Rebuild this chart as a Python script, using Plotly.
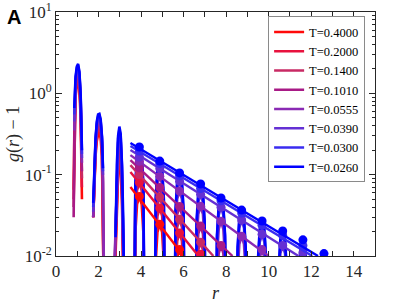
import plotly.graph_objects as go

# ---------------- data ----------------
TEMPS = ["0.4000", "0.2000", "0.1400", "0.1010", "0.0555", "0.0390", "0.0300", "0.0260"]
COLORS = ["#ff0a0a", "#e8123e", "#c82a64", "#a81a86", "#8a2ab4", "#6430d4", "#3a2cf0", "#0000ff"]

# first three peaks of g(r)-1 (explicit samples; None = g(r)-1 <= 0)
NEAR_R = [0.83, 0.86, 0.92, 0.98, 1.04, 1.10, 1.16, 1.22, None,
          1.75, 1.80, 1.86, 1.92, 1.98, 2.04, 2.10, 2.16, 2.21, 2.26, None,
          2.75, 2.80, 2.86, 2.92, 2.98, 3.04, 3.10, 3.16, 3.21]
NEAR_V = {
    "0.4000": [0.065, 0.30, 0.90, 1.30, 1.40, 1.10, 0.50, 0.050, None,
               0.030, 0.080, 0.17, 0.26, 0.31, 0.33, 0.28, 0.17, 0.050, 0.002, None,
               0.004, 0.013, 0.050, 0.10, 0.13, 0.11, 0.050, 0.011, 0.001],
    "0.2000": [0.050, 0.22, 0.95, 1.45, 1.60, 1.30, 0.60, 0.070, None,
               0.030, 0.090, 0.19, 0.30, 0.36, 0.38, 0.33, 0.20, 0.060, 0.002, None,
               0.005, 0.016, 0.060, 0.125, 0.16, 0.135, 0.063, 0.014, 0.002],
    "0.1400": [0.040, 0.20, 1.05, 1.60, 1.70, 1.40, 0.66, 0.090, None,
               0.030, 0.090, 0.21, 0.33, 0.40, 0.42, 0.36, 0.22, 0.070, 0.003, None,
               0.006, 0.018, 0.070, 0.15, 0.19, 0.16, 0.075, 0.016, 0.002],
    "0.1010": [0.030, 0.25, 1.15, 1.70, 1.80, 1.50, 0.72, 0.11, None,
               0.030, 0.10, 0.22, 0.35, 0.43, 0.45, 0.39, 0.24, 0.080, 0.003, None,
               0.007, 0.020, 0.080, 0.17, 0.22, 0.19, 0.085, 0.019, 0.002],
    "0.0555": [None, 0.35, 1.30, 1.85, 1.95, 1.60, 0.80, 0.14, None,
               0.030, 0.10, 0.24, 0.38, 0.46, 0.48, 0.41, 0.26, 0.090, 0.004, None,
               0.008, 0.024, 0.10, 0.21, 0.27, 0.23, 0.10, 0.022, 0.003],
    "0.0390": [None, 0.45, 1.40, 1.95, 2.10, 1.70, 0.85, 0.16, None,
               0.035, 0.10, 0.26, 0.41, 0.50, 0.52, 0.44, 0.28, 0.10, None, None,
               None, 0.022, 0.11, 0.25, 0.32, 0.27, 0.12, 0.025, 0.003],
    "0.0300": [None, 0.55, 1.50, 2.05, 2.20, 1.78, 0.90, 0.18, None,
               0.040, 0.11, 0.27, 0.43, 0.53, 0.54, 0.46, 0.29, 0.11, None, None,
               None, 0.019, 0.12, 0.28, 0.36, 0.30, 0.13, 0.028, 0.003],
    "0.0260": [None, 0.66, 1.60, 2.15, 2.30, 1.85, 0.95, 0.20, None,
               0.045, 0.12, 0.28, 0.45, 0.55, 0.56, 0.48, 0.30, 0.12, None, None,
               None, 0.017, 0.13, 0.30, 0.39, 0.32, 0.14, 0.030, 0.003],
}

# maxima of the outer peaks (markers)
PEAK_R = [3.92, 4.88, 5.81, 6.80, 7.76, 8.73, 9.69, 10.66, 11.61, 12.60]
PEAK_V = {
    "0.4000": [0.0540, 0.0245, 0.0120],
    "0.2000": [0.0800, 0.0389, 0.0192, 0.0105],
    "0.1400": [0.1000, 0.0530, 0.0283, 0.0148],
    "0.1010": [0.1210, 0.0697, 0.0406, 0.0233, 0.0135],
    "0.0555": [0.1460, 0.0953, 0.0628, 0.0408, 0.0267, 0.0175, 0.0120],
    "0.0390": [0.1650, 0.1190, 0.0830, 0.0573, 0.0398, 0.0277, 0.0185, 0.0135, 0.0110],
    "0.0300": [0.1950, 0.1370, 0.0967, 0.0677, 0.0477, 0.0337, 0.0238, 0.0180, 0.0135],
    "0.0260": [0.2190, 0.1470, 0.1050, 0.0767, 0.0516, 0.0367, 0.0269, 0.0203, 0.0158, 0.0107],
}

# exponential fits: (r_start, value) -> (r_end, value)
FIT_R0 = 3.5
FIT_V0 = {"0.4000": 0.0705, "0.2000": 0.108, "0.1400": 0.131, "0.1010": 0.151,
          "0.0555": 0.174, "0.0390": 0.201, "0.0300": 0.225, "0.0260": 0.245}
FIT_R1 = {"0.4000": 6.0, "0.2000": 6.7, "0.1400": 7.4, "0.1010": 8.3,
          "0.0555": 10.0, "0.0390": 11.4, "0.0300": 12.05, "0.0260": 12.32}
FIT_V1 = 0.01

# sampling of each outer peak relative to its maximum (offset in r, fraction of maximum)
SPIKE_DR = [-0.24, -0.19, -0.11, 0.0, 0.11, 0.19, 0.24]
SPIKE_FRAC = [0.004, 0.35, 0.80, 1.0, 0.80, 0.35, 0.004]

X_TICKS = [0, 2, 4, 6, 8, 10, 12, 14]
Y_TICKS = [0.01, 0.1, 1, 10]
Y_TICKTEXT = ["10<sup>-2</sup>", "10<sup>-1</sup>", "10<sup>0</sup>", "10<sup>1</sup>"]
Y_MINOR = [m * 10 ** e for e in (-2, -1, 0) for m in range(2, 10)]

SERIF = "Liberation Serif"
AXC = "#262626"

fig = go.Figure()

# g(r)-1 curves
for T, c in zip(TEMPS, COLORS):
    xs = list(NEAR_R)
    ys = list(NEAR_V[T])
    for rk, vk in zip(PEAK_R, PEAK_V[T]):
        xs.append(None)
        ys.append(None)
        for dr, f in zip(SPIKE_DR, SPIKE_FRAC):
            xs.append(rk + dr)
            ys.append(vk * f)
    fig.add_trace(go.Scatter(x=xs, y=ys, mode="lines", name="T=" + T,
                             line=dict(color=c, width=2.6), connectgaps=False,
                             showlegend=True))

# fits and peak markers
for T, c in zip(TEMPS, COLORS):
    fig.add_trace(go.Scatter(x=[FIT_R0, FIT_R1[T]], y=[FIT_V0[T], FIT_V1], mode="lines",
                             line=dict(color=c, width=2.4), showlegend=False))
    fig.add_trace(go.Scatter(x=PEAK_R[:len(PEAK_V[T])], y=PEAK_V[T], mode="markers",
                             marker=dict(color=c, size=9), showlegend=False))

fig.update_layout(
    width=399, height=307,
    margin=dict(l=56, r=24, t=12, b=51, autoexpand=False),
    paper_bgcolor="white", plot_bgcolor="white",
    font=dict(family=SERIF, size=16, color=AXC),
    legend=dict(x=0.969, y=0.982, xanchor="right", yanchor="top",
                bgcolor="white", bordercolor="#8a8a8a", borderwidth=1,
                font=dict(family=SERIF, size=12.5, color="black"),
                itemwidth=30, tracegroupgap=0),
    xaxis=dict(range=[0, 15], tickvals=X_TICKS, ticks="inside", ticklen=5,
               tickcolor=AXC, showline=True, linecolor=AXC, linewidth=1,
               mirror="ticks", showgrid=False, zeroline=False, automargin=False,
               ticklabeloverflow="allow",
               minor=dict(dtick=1, ticks="inside", ticklen=5, tickcolor=AXC),
               tickfont=dict(family=SERIF, size=17, color=AXC)),
    yaxis=dict(type="log", range=[-2, 1], tickvals=Y_TICKS, ticktext=Y_TICKTEXT,
               ticks="inside", ticklen=6, tickcolor=AXC, showline=True,
               linecolor=AXC, linewidth=1, mirror="ticks", showgrid=False,
               zeroline=False, automargin=False, ticklabeloverflow="allow",
               minor=dict(tickvals=Y_MINOR, ticks="inside", ticklen=3, tickcolor=AXC),
               tickfont=dict(family=SERIF, size=17, color=AXC)),
    annotations=[
        dict(text="<b>A</b>", x=-0.16, y=1.033, xref="paper", yref="paper",
             xanchor="left", yanchor="top", showarrow=False,
             font=dict(family="Liberation Sans", size=20, color="black")),
        dict(text="<i>r</i>", x=0.5, y=-0.152, xref="paper", yref="paper",
             xanchor="center", yanchor="middle", showarrow=False,
             font=dict(family=SERIF, size=18, color=AXC)),
        dict(text="<i>g</i>(<i>r</i>) − 1", x=-0.135, y=0.5, xref="paper", yref="paper",
             xanchor="center", yanchor="middle", textangle=-90, showarrow=False,
             font=dict(family=SERIF, size=18, color=AXC)),
    ],
)

fig.write_html("out.html", config={"displayModeBar": False},
               post_script="document.body.style.margin='0';")
